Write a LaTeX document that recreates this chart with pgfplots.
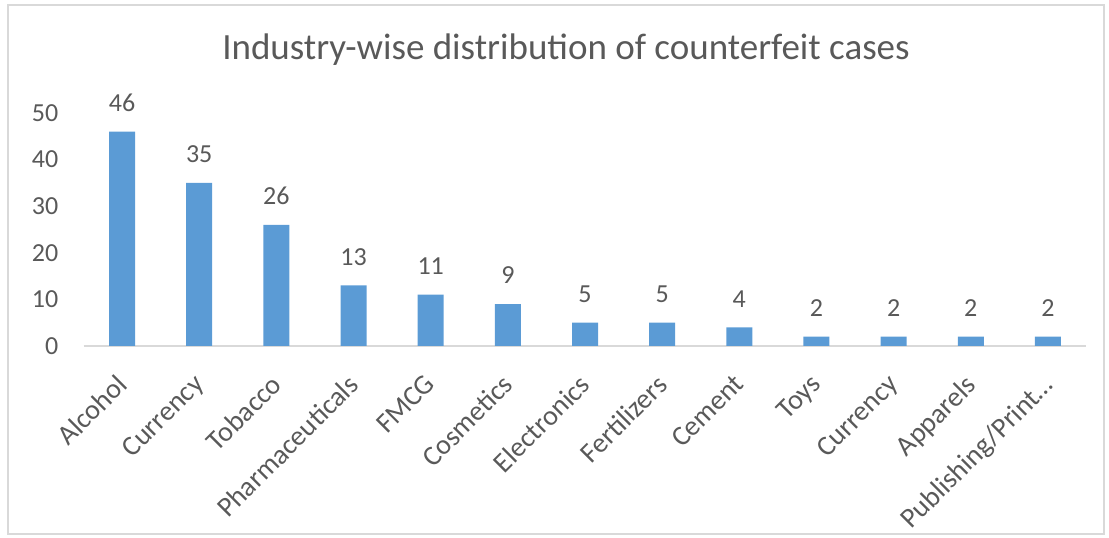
\documentclass[border=0pt]{standalone}
\usepackage{pgfplots}
\pgfplotsset{compat=1.18}
\usepackage{fontspec}
\setmainfont{Carlito}
\definecolor{barblue}{HTML}{5B9BD5}
\definecolor{txt}{HTML}{595959}
\definecolor{axl}{HTML}{D9D9D9}
\begin{document}
\begin{tikzpicture}[x=1pt,y=1pt]
\path[use as bounding box] (0,0) rectangle (1109,538);
\draw[color=axl, line width=1.5pt] (8,4) rectangle (1104,533);
\node[text=txt, font=\fontsize{37}{37}\selectfont, anchor=base] at (566,478) {Industry-wise distribution of counterfeit cases};
\begin{axis}[
  at={(83.5pt,192pt)}, anchor=south west,
  width=1003pt, height=233pt, scale only axis,
  ymin=0, ymax=50, xmin=-0.5, xmax=12.5,
  ytick={0,10,20,30,40,50},
  xtick={0,1,2,3,4,5,6,7,8,9,10,11,12},
  xticklabels={Alcohol,Currency,Tobacco,Pharmaceuticals,FMCG,Cosmetics,Electronics,Fertilizers,Cement,Toys,Currency,Apparels,{Publishing/Print…}},
  /pgf/number format/assume math mode=true,
  axis x line=bottom, axis y line=left,
  x axis line style={draw=axl, line width=1.2pt, -},
  y axis line style={draw=none},
  major tick length=0pt,
  x tick label style={rotate=45, anchor=north east, font=\fontsize{28}{28}\selectfont, text=txt, inner sep=0pt, xshift=-24pt, yshift=-14pt},
  y tick label style={font=\fontsize{26}{26}\selectfont, text=txt, anchor=east, inner sep=0pt, xshift=-25pt},
  ybar, bar width=26pt,
  nodes near coords,
  nodes near coords style={font=\fontsize{26}{26}\selectfont, text=txt, anchor=south, inner sep=0pt, yshift=20pt},
  clip=false,
]
\addplot[fill=barblue, draw=none] coordinates {
  (0,46) (1,35) (2,26) (3,13) (4,11) (5,9) (6,5) (7,5) (8,4) (9,2) (10,2) (11,2) (12,2)
};
\end{axis}
\end{tikzpicture}
\end{document}
